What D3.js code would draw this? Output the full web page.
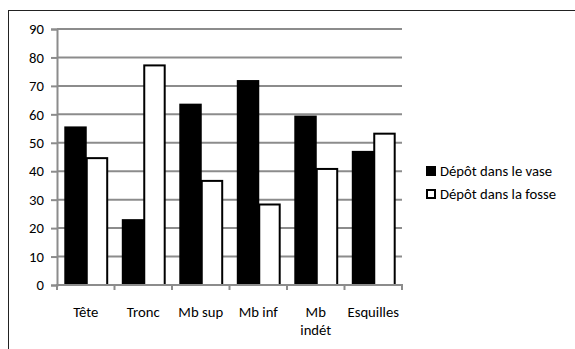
<!DOCTYPE html>
<html><head><meta charset="utf-8">
<script src="https://cdn.jsdelivr.net/npm/d3@7"></script>
<style>body{margin:0;background:#fff}svg{display:block}</style>
</head><body>
<script>
const categories = ["Tête", "Tronc", "Mb sup", "Mb inf", "Mb indét", "Esquilles"];
const vase = [55.4, 22.8, 63.4, 71.7, 59.2, 46.8];
const fosse = [44.6, 77.2, 36.6, 28.3, 40.8, 53.2];
const seriesNames = ["Dépôt dans le vase", "Dépôt dans la fosse"];
const yTicks = [0, 10, 20, 30, 40, 50, 60, 70, 80, 90];

const W = 575, H = 349;
const svg = d3.select("body").append("svg").attr("width", W).attr("height", H);
const font = "Carlito, Calibri, 'Liberation Sans', Arial, sans-serif";
const fs = 14.7;

// outer frame
svg.append("rect").attr("x", 8.5).attr("y", 10.5).attr("width", 600).attr("height", 400)
  .attr("fill", "none").attr("stroke", "#222").attr("stroke-width", 1);

const m = {l: 57, r: 402, t: 29, b: 285};
const x = d3.scaleBand().domain(categories).range([m.l, m.r]).paddingInner(0).paddingOuter(0);
const y = d3.scaleLinear().domain([0, 90]).range([m.b, m.t]);
const inner = d3.scaleBand().domain([0, 1]).range([0, x.bandwidth()]).paddingInner(0).paddingOuter(0.34);

// gridlines
svg.append("g").selectAll("line").data(yTicks.filter(d => d > 0)).join("line")
  .attr("x1", m.l).attr("x2", m.r).attr("y1", d => y(d)).attr("y2", d => y(d))
  .attr("stroke", "#8c8c8c").attr("stroke-width", 2);

// bars
const data = [vase, fosse];
const g = svg.append("g");
data.forEach((vals, si) => {
  g.selectAll(null).data(vals).join("rect")
    .attr("x", (d, i) => x(categories[i]) + inner(si) + 1)
    .attr("y", d => y(d))
    .attr("width", inner.bandwidth() - 1)
    .attr("height", d => y(0) - y(d))
    .attr("fill", si === 0 ? "#000" : "#fff")
    .attr("stroke", "#000").attr("stroke-width", 2);
});

// y axis
const ya = svg.append("g").attr("transform", `translate(${m.l},0)`)
  .call(d3.axisLeft(y).tickValues(yTicks).tickSize(6).tickPadding(7));
ya.select(".domain").attr("stroke", "#8c8c8c").attr("stroke-width", 2);
ya.selectAll(".tick line").attr("stroke", "#8c8c8c").attr("stroke-width", 2);
ya.selectAll("text").attr("font-family", font).attr("font-size", fs).attr("fill", "#000");

// x axis
const xa = svg.append("g").attr("transform", `translate(0,${m.b})`);
xa.append("line").attr("x1", m.l - 1).attr("x2", m.r + 1).attr("y1", 0).attr("y2", 0)
  .attr("stroke", "#8c8c8c").attr("stroke-width", 2);
const bounds = categories.map(c => x(c)).concat([m.r]);
xa.selectAll(".tk").data(bounds).join("line")
  .attr("x1", d => d).attr("x2", d => d).attr("y1", 0).attr("y2", 5)
  .attr("stroke", "#8c8c8c").attr("stroke-width", 2);
const labLines = {"Mb indét": ["Mb", "indét"]};
categories.forEach(c => {
  const lines = labLines[c] || [c];
  const t = xa.append("text").attr("x", x(c) + x.bandwidth() / 2).attr("y", 32)
    .attr("text-anchor", "middle").attr("font-family", font).attr("font-size", fs).attr("fill", "#000");
  lines.forEach((ln, i) => t.append("tspan").attr("x", x(c) + x.bandwidth() / 2).attr("dy", i ? 18 : 0).text(ln));
});

// legend
seriesNames.forEach((n, i) => {
  const ly = 171 + i * 23;
  svg.append("rect").attr("x", 427).attr("y", ly - 4).attr("width", 8).attr("height", 8)
    .attr("fill", i === 0 ? "#000" : "#fff").attr("stroke", "#000").attr("stroke-width", 2);
  svg.append("text").attr("x", 440).attr("y", ly + 5).attr("font-family", font).attr("font-size", fs)
    .attr("fill", "#000").text(n);
});
</script>
</body></html>
